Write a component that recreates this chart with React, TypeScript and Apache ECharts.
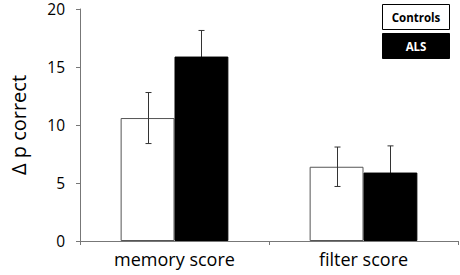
import React, { useEffect, useRef } from "react";
import * as echarts from "echarts";

const categories = ["memory score", "filter score"];
const seriesNames = ["Controls", "ALS"];
const controlsValues = [10.6, 6.4];
const controlsErrors = [2.2, 1.7];
const alsValues = [15.9, 5.9];
const alsErrors = [2.25, 2.3];
const yTicks = { min: 0, max: 20, interval: 5 };

const FONT = "'Open Sans', Lato, sans-serif";
const GAP = 0.43;

function makeErrorSeries(values: number[], errors: number[], side: number, color: string, z: number) {
  return {
    type: "custom",
    data: values.map((v, i) => [i, v, errors[i]]),
    z,
    renderItem: (params: any, api: any) => {
      const idx = api.value(0);
      const val = api.value(1);
      const err = api.value(2);
      const band = api.size([1, 0])[0];
      const bw = (band * (1 - GAP)) / 2;
      const c = api.coord([idx, val]);
      const x = Math.round(c[0] + (side * bw) / 2) + 0.5;
      const top = api.coord([idx, val + err])[1];
      const bot = api.coord([idx, val - err])[1];
      const cap = 3;
      const style = { stroke: color, lineWidth: 1 };
      return {
        type: "group",
        children: [
          { type: "line", shape: { x1: x, y1: top, x2: x, y2: bot }, style },
          { type: "line", shape: { x1: x - cap, y1: top, x2: x + cap, y2: top }, style },
          { type: "line", shape: { x1: x - cap, y1: bot, x2: x + cap, y2: bot }, style },
        ],
      };
    },
  };
}

export default function App() {
  const ref = useRef<HTMLDivElement>(null);
  useEffect(() => {
    const chart = echarts.init(ref.current!, null, { renderer: "svg" });
    chart.setOption({
      animation: false,
      textStyle: { fontFamily: FONT },
      grid: { left: 65, right: 2, top: 8, bottom: 34 },
      xAxis: {
        type: "category",
        data: categories,
        axisLine: { lineStyle: { color: "#777", width: 1 } },
        axisTick: { show: true, length: 4, lineStyle: { color: "#777" } },
        axisLabel: { color: "#000", fontSize: 18, margin: 9, fontFamily: FONT },
      },
      yAxis: {
        type: "value",
        min: yTicks.min,
        max: yTicks.max,
        interval: yTicks.interval,
        name: "Δ p correct",
        nameLocation: "middle",
        nameGap: 52,
        nameTextStyle: { color: "#000", fontSize: 20, fontFamily: FONT },
        splitLine: { show: false },
        axisLine: { show: true, lineStyle: { color: "#777", width: 1 } },
        axisTick: { show: true, length: 4, lineStyle: { color: "#777" } },
        axisLabel: { color: "#000", fontSize: 15.5, lineHeight: 14, padding: [4, 0, 0, 0], margin: 15, fontFamily: FONT },
      },
      series: [
        {
          name: seriesNames[0],
          type: "bar",
          data: controlsValues,
          barGap: "0%",
          barCategoryGap: GAP * 100 + "%",
          z: 2,
          itemStyle: { color: "#fff", borderColor: "#555", borderWidth: 1 },
        },
        {
          name: seriesNames[1],
          type: "bar",
          data: alsValues,
          barGap: "0%",
          barCategoryGap: GAP * 100 + "%",
          z: 2,
          itemStyle: { color: "#000", borderColor: "#000", borderWidth: 1 },
        },
        makeErrorSeries(controlsValues, controlsErrors, -1, "#333", 5),
        makeErrorSeries(alsValues, alsErrors, 1, "#333", 1),
      ],
      graphic: [
        {
          type: "group",
          left: 382,
          top: 4,
          children: [
            { type: "rect", shape: { x: 0.5, y: 0.5, width: 67, height: 25 }, style: { fill: "#fff", stroke: "#000", lineWidth: 1 } },
            { type: "text", x: 34, y: 13, style: { text: seriesNames[0], fill: "#000", font: "bold 11.5px " + FONT, align: "center", verticalAlign: "middle" } },
            { type: "rect", shape: { x: 0.5, y: 29.5, width: 67, height: 25 }, style: { fill: "#000", stroke: "#000", lineWidth: 1 } },
            { type: "text", x: 34, y: 42, style: { text: seriesNames[1], fill: "#fff", font: "bold 11.5px " + FONT, align: "center", verticalAlign: "middle" } },
          ],
        },
      ],
    });
    return () => chart.dispose();
  }, []);
  return <div ref={ref} style={{ width: 460, height: 275, position: "absolute", left: 0, top: 0 }} />;
}
